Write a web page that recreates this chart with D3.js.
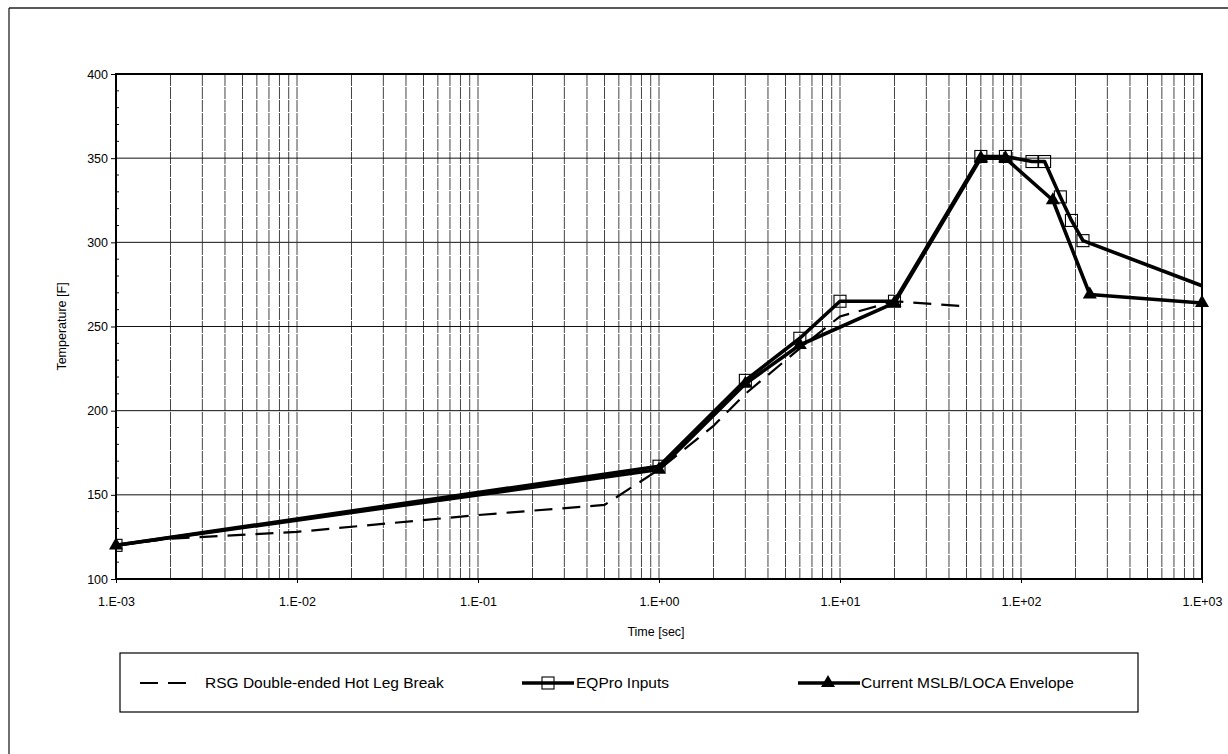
<!DOCTYPE html>
<html>
<head>
<meta charset="utf-8">
<script src="https://cdn.jsdelivr.net/npm/d3@7"></script>
<style>
  body { margin: 0; background: #fff; }
  svg { font-family: "Liberation Sans", Arial, sans-serif; }
</style>
</head>
<body>
<div id="chart"></div>
<script>
// time [sec] / temperature [F]
var rsgTime = [0.001, 0.002, 0.01, 0.1, 0.5, 1, 2, 3, 6, 10, 20, 50];
var rsgTemp = [120, 124, 128, 138, 144, 165, 191, 210, 237, 256, 265, 262];

var eqTime = [0.001, 1, 3, 6, 10, 20, 60, 82, 115, 135, 165, 190, 220, 1200];
var eqTemp = [120, 167, 218, 243, 265, 265, 351, 351, 348, 348, 327, 313, 301, 271];

var envTime = [0.001, 1, 3, 6, 20, 60, 82, 150, 240, 1000];
var envTemp = [120, 165, 216, 239, 264, 350, 350, 325, 269, 264];

var xTicks = [1e-3, 1e-2, 1e-1, 1e0, 1e1, 1e2, 1e3];
var yTicks = [100, 150, 200, 250, 300, 350, 400];

var legendNames = ["RSG Double-ended Hot Leg Break", "EQPro Inputs", "Current MSLB/LOCA Envelope"];

var W = 1228, H = 754;
var pL = 116, pR = 1202, pT = 74, pB = 579;

var svg = d3.select("#chart").append("svg").attr("width", W).attr("height", H);

// outer frame of the page (only top and left survive on the scan)
svg.append("line").attr("x1", 9).attr("x2", W).attr("y1", 8).attr("y2", 8)
    .attr("stroke", "#222").attr("stroke-width", 1.3);
svg.append("line").attr("x1", 9).attr("x2", 9).attr("y1", 8).attr("y2", H)
    .attr("stroke", "#222").attr("stroke-width", 1.3);

var x = d3.scaleLog().domain([1e-3, 1e3]).range([pL, pR]);
var y = d3.scaleLinear().domain([100, 400]).range([pB, pT]);

function zip(t, v) { return t.map(function(d, i) { return [d, v[i]]; }); }
var rsg = zip(rsgTime, rsgTemp), eq = zip(eqTime, eqTemp), env = zip(envTime, envTemp);

svg.append("clipPath").attr("id", "plotclip").append("rect")
    .attr("x", pL).attr("y", pT - 8).attr("width", pR - pL).attr("height", pB - pT + 8);

// vertical minor grid, 1..9 per decade
var vgrid = [];
for (var e = -3; e < 3; e++) for (var k = 1; k < 10; k++) vgrid.push(k * Math.pow(10, e));
vgrid.push(1e3);
svg.append("g").selectAll("line").data(vgrid).enter().append("line")
    .attr("x1", d => x(d)).attr("x2", d => x(d))
    .attr("y1", pT).attr("y2", pB)
    .attr("stroke", "#444").attr("stroke-width", 1)
    .attr("stroke-dasharray", "12,1");

// horizontal grid
svg.append("g").selectAll("line").data(yTicks).enter().append("line")
    .attr("x1", pL).attr("x2", pR)
    .attr("y1", d => y(d)).attr("y2", d => y(d))
    .attr("stroke", "#111").attr("stroke-width", 1);

// minor y ticks inside the axis
svg.append("g").selectAll("line").data(d3.range(110, 400, 10).filter(d => d % 50)).enter().append("line")
    .attr("x1", pL).attr("x2", pL + 3)
    .attr("y1", d => y(d)).attr("y2", d => y(d))
    .attr("stroke", "#111");

// frame
svg.append("rect").attr("x", pL).attr("y", pT)
    .attr("width", pR - pL).attr("height", pB - pT)
    .attr("fill", "none").attr("stroke", "#000").attr("stroke-width", 2);

// axes
var fmt = function(d) {
    var p = Math.round(Math.log10(d));
    return "1.E" + (p < 0 ? "-" : "+") + String(Math.abs(p)).padStart(2, "0");
};
var xAxis = svg.append("g").attr("transform", "translate(0," + pB + ")")
    .call(d3.axisBottom(x).tickValues(xTicks).tickFormat(fmt).tickSize(4).tickSizeOuter(0));
var yAxis = svg.append("g").attr("transform", "translate(" + pL + ",0)")
    .call(d3.axisLeft(y).tickValues(yTicks).tickSize(5).tickSizeOuter(0));
[xAxis, yAxis].forEach(function(g) {
    g.select(".domain").remove();
    g.selectAll("line").attr("stroke", "#000");
    g.selectAll("text").attr("fill", "#000").style("font-size", "12.5px")
        .style("font-family", "Liberation Sans, Arial, sans-serif");
});
xAxis.selectAll("text").attr("dy", "1.6em");

svg.append("text").attr("x", (pL + pR) / 2 - 3).attr("y", 636)
    .attr("text-anchor", "middle").style("font-size", "12.5px").text("Time [sec]");
svg.append("text").attr("transform", "translate(66," + ((pT + pB) / 2) + ") rotate(-90)")
    .attr("text-anchor", "middle").style("font-size", "12.5px").text("Temperature [F]");

// series
var line = d3.line().x(d => x(d[0])).y(d => y(d[1]));
var plot = svg.append("g").attr("clip-path", "url(#plotclip)");

plot.append("path").datum(rsg).attr("d", line)
    .attr("fill", "none").attr("stroke", "#000").attr("stroke-width", 2.2)
    .attr("stroke-dasharray", "18,10");

plot.append("path").datum(eq).attr("d", line)
    .attr("fill", "none").attr("stroke", "#000").attr("stroke-width", 3.6)
    .attr("stroke-linejoin", "round");

var sq = 12;
plot.append("g").selectAll("rect").data(eq).enter().append("rect")
    .attr("x", d => x(d[0]) - sq / 2).attr("y", d => y(d[1]) - sq / 2)
    .attr("width", sq).attr("height", sq)
    .attr("fill", "none").attr("stroke", "#000").attr("stroke-width", 1.1);

plot.append("path").datum(env).attr("d", line)
    .attr("fill", "none").attr("stroke", "#000").attr("stroke-width", 3.6)
    .attr("stroke-linejoin", "round");

var tri = d3.symbol().type(d3.symbolTriangle).size(85);
svg.append("g").selectAll("path").data(env).enter().append("path")
    .attr("d", tri)
    .attr("transform", d => "translate(" + x(d[0]) + "," + y(d[1]) + ")")
    .attr("fill", "#000");

// legend
var lg = svg.append("g");
lg.append("rect").attr("x", 120).attr("y", 653).attr("width", 1018).attr("height", 59)
    .attr("fill", "none").attr("stroke", "#000").attr("stroke-width", 1.2);

var ly = 683, fs = "15.5px";
lg.append("line").attr("x1", 140).attr("x2", 192).attr("y1", ly).attr("y2", ly)
    .attr("stroke", "#000").attr("stroke-width", 2.2).attr("stroke-dasharray", "18,10");
lg.append("text").attr("x", 205).attr("y", ly + 5).style("font-size", fs).text(legendNames[0]);

lg.append("line").attr("x1", 522).attr("x2", 574).attr("y1", ly).attr("y2", ly)
    .attr("stroke", "#000").attr("stroke-width", 3.6);
lg.append("rect").attr("x", 542).attr("y", ly - 6).attr("width", 12).attr("height", 12)
    .attr("fill", "none").attr("stroke", "#000").attr("stroke-width", 1.1);
lg.append("text").attr("x", 576).attr("y", ly + 5).style("font-size", fs).text(legendNames[1]);

lg.append("line").attr("x1", 798).attr("x2", 860).attr("y1", ly).attr("y2", ly)
    .attr("stroke", "#000").attr("stroke-width", 3.6);
lg.append("path").attr("d", tri).attr("transform", "translate(828," + ly + ")").attr("fill", "#000");
lg.append("text").attr("x", 861).attr("y", ly + 5).style("font-size", fs).text(legendNames[2]);
</script>
</body>
</html>
